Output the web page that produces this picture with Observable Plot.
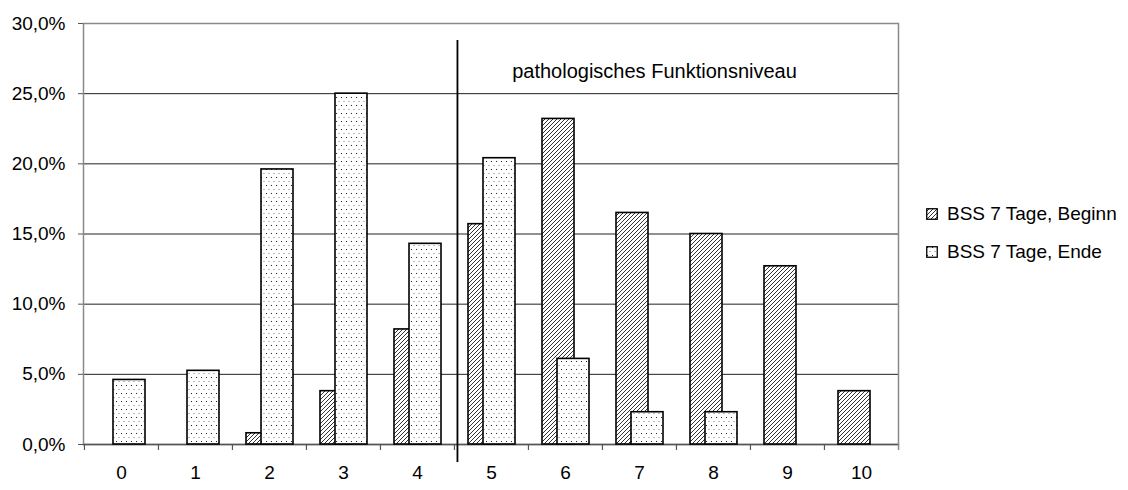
<!DOCTYPE html>
<html>
<head>
<meta charset="utf-8">
<script src="https://cdn.jsdelivr.net/npm/d3@7"></script>
<script src="https://cdn.jsdelivr.net/npm/@observablehq/plot@0.6"></script>
<style>
  html, body { margin: 0; padding: 0; background: #fff; }
  #wrap { position: relative; width: 1128px; height: 490px; font-family: "Liberation Sans", Arial, sans-serif; }
  #legend { position: absolute; left: 926px; top: 195px; font-size: 19px; color: #000; }
  #legend .item { display: flex; align-items: center; height: 38px; white-space: nowrap; }
  #legend svg { margin-right: 9px; }
</style>
</head>
<body>
<div id="wrap"><div id="chart"></div><div id="legend"></div></div>
<script>
// ---- data ----
const categories = ["0", "1", "2", "3", "4", "5", "6", "7", "8", "9", "10"];
const seriesNames = ["BSS 7 Tage, Beginn", "BSS 7 Tage, Ende"];
const beginnValues = [0, 0, 0.008, 0.038, 0.082, 0.157, 0.232, 0.165, 0.150, 0.127, 0.038];
const endeValues   = [0.046, 0.0525, 0.196, 0.250, 0.143, 0.204, 0.061, 0.023, 0.023, 0, 0];
const yTicks = [0, 0.05, 0.10, 0.15, 0.20, 0.25, 0.30];
const thresholdCategory = "5";
const annotationText = "pathologisches Funktionsniveau";
const annotationCategory = "7";
const annotationValue = 0.266;

// ---- layout ----
const W = 1128, H = 490;
const mL = 83, mR = 230, mT = 23, mB = 46;
const bw = (W - mL - mR) / categories.length;
const font = "'Liberation Sans', Arial, sans-serif";

const beginnData = categories.map((c, i) => ({cat: c, value: beginnValues[i]})).filter(d => d.value > 0);
const endeData = categories.map((c, i) => ({cat: c, value: endeValues[i]})).filter(d => d.value > 0);
const fmt = d => (d * 100).toFixed(1).replace(".", ",") + "%";

const chart = Plot.plot({
  width: W, height: H,
  marginLeft: mL, marginRight: mR, marginTop: mT, marginBottom: mB,
  style: {fontFamily: font, fontSize: "19px", color: "#000", background: "#fff", overflow: "visible"},
  x: {domain: categories, padding: 0, axis: null},
  y: {domain: [0, 0.30], axis: null},
  marks: [
    Plot.ruleY(yTicks.filter(t => t > 0 && t < 0.30), {stroke: "#222", strokeWidth: 1}),
    Plot.frame({stroke: "#8a8a8a", strokeWidth: 1.5}),
    Plot.ruleY([0], {stroke: "#555", strokeWidth: 1.5}),
    Plot.axisY({ticks: yTicks, tickFormat: fmt, tickSize: 5, tickPadding: 13, stroke: "#555", fontSize: 19, fill: "#000", label: null}),
    Plot.axisX({tickSize: 0, tickPadding: 21, fontSize: 19, fill: "#000", label: null}),
    // category boundary ticks below the axis
    Plot.ruleX(categories, {x: d => d, dx: -bw / 2, stroke: "#555", strokeWidth: 1.2, insetTop: (H - mT - mB), insetBottom: -6}),
    Plot.ruleX(categories.slice(-1), {x: d => d, dx: bw / 2, stroke: "#8a8a8a", strokeWidth: 1.5, insetTop: (H - mT - mB), insetBottom: -6}),
    // bars
    Plot.barY(beginnData, {x: "cat", y: "value", fill: "url(#hatchPat)", stroke: "#000", strokeWidth: 1.6, insetLeft: 14, insetRight: 28}),
    Plot.barY(endeData, {x: "cat", y: "value", fill: "url(#dotPat)", stroke: "#000", strokeWidth: 1.6, insetLeft: 29, insetRight: 13}),
    // threshold divider
    Plot.ruleX([thresholdCategory], {x: d => d, dx: -bw / 2 + 3, stroke: "#000", strokeWidth: 1.8, insetTop: 17, insetBottom: -18}),
    Plot.text([annotationText], {x: () => annotationCategory, y: () => annotationValue, text: d => d, dx: 15, fontSize: 20, fill: "#000", textAnchor: "middle"})
  ]
});

// patterns
const defs = `
<defs>
  <pattern id="hatchPat" patternUnits="userSpaceOnUse" width="4" height="4">
    <rect width="4" height="4" fill="#fff"/>
    <path d="M-1,1 l2,-2 M0,4 l4,-4 M3,5 l2,-2" stroke="#333" stroke-width="1"/>
  </pattern>
  <pattern id="dotPat" patternUnits="userSpaceOnUse" width="5" height="8">
    <rect width="5" height="8" fill="#fff"/>
    <rect x="1" y="1" width="1" height="1" fill="#222"/>
    <rect x="3.5" y="5" width="1" height="1" fill="#777"/>
  </pattern>
</defs>`;
chart.insertAdjacentHTML("afterbegin", defs);
document.getElementById("chart").appendChild(chart);

// legend
const legend = document.getElementById("legend");
const fills = ["hatchPat", "dotPat"];
seriesNames.forEach((name, i) => {
  const item = document.createElement("div");
  item.className = "item";
  item.innerHTML = `<svg width="12" height="12"><defs>${defs.replace(/id="(\w+)"/g, 'id="lg_$1"').replace(/<\/?defs>/g, "")}</defs><rect x="0.75" y="0.75" width="10.5" height="10.5" fill="url(#lg_${fills[i]})" stroke="#000" stroke-width="1.3"/></svg><span>${name}</span>`;
  legend.appendChild(item);
});
</script>
</body>
</html>
